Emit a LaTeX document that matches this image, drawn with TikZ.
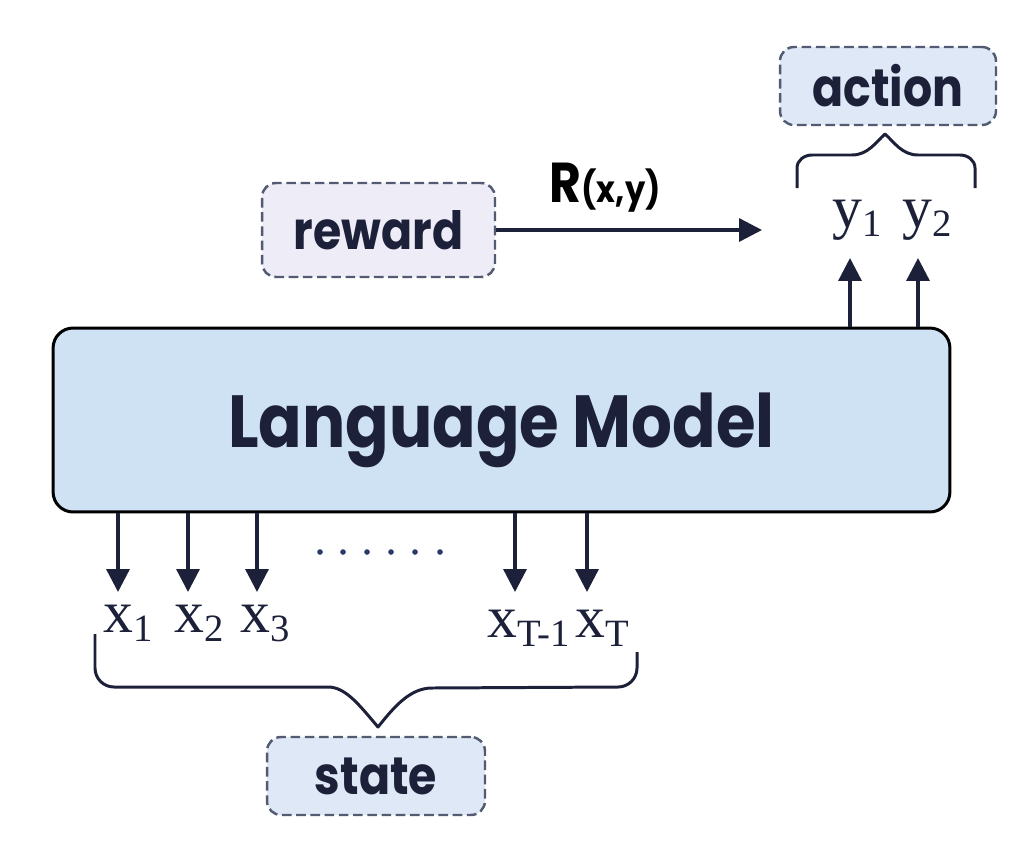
\documentclass[tikz,border=0pt]{standalone}
\usepackage{fontspec}
\usetikzlibrary{arrows.meta,positioning}
\newfontfamily\geofont[FakeStretch=0.87]{Poppins}
\newfontfamily\timesfont{Liberation Serif}
\definecolor{ink}{HTML}{1C2038}
\definecolor{edge}{HTML}{525B72}
\definecolor{lmblue}{HTML}{CFE2F3}
\definecolor{tagblue}{HTML}{DEE8F6}
\definecolor{taglilac}{HTML}{EEECF7}
\definecolor{dotblue}{HTML}{2B3A6B}
\newcommand{\tok}[2]{{\timesfont\fontsize{34}{34}\selectfont #1\raisebox{-0.14em}{\fontsize{22}{22}\selectfont #2}}}

\begin{document}
\begin{tikzpicture}[x=0.02cm, y=-0.02cm,
  lmbox/.style={draw=black, line width=1.7pt, fill=lmblue, rounded corners=0.4cm,
    minimum width=17.94cm, minimum height=3.68cm, text=ink, text depth=0pt,
    font=\geofont\bfseries\fontsize{42}{42}\selectfont},
  tagbox/.style={draw=edge, line width=1.4pt, dash pattern=on 5.5pt off 2.6pt,
    rounded corners=0.28cm, text=ink, inner sep=0pt,
    font=\geofont\bfseries\fontsize{30}{30}\selectfont},
  arr/.style={draw=ink, line width=1.9pt, -{Triangle[width=13pt,length=13pt]}},
  brace/.style={draw=ink, line width=1.7pt, line join=round},
  tok/.style={inner sep=0pt, text=ink, anchor=north west}]
\useasboundingbox (0,0) rectangle (1024,842);

\node[lmbox] (lm) at (501.5,420) {Language Model};
\node[tagbox, fill=taglilac, minimum width=4.66cm, minimum height=1.88cm] (reward) at (378.5,230) {reward};
\node[tagbox, fill=tagblue, minimum width=4.32cm, minimum height=1.56cm] (action) at (888,86) {action};
\node[tagbox, fill=tagblue, minimum width=4.36cm, minimum height=1.56cm] (state) at (376,776) {state};

\coordinate (rtip) at (762,230);
\draw[arr] (reward.east) -- node[pos=0.41, above=9pt, inner sep=0pt, text=black,
  font=\geofont\bfseries] {\fontsize{32}{32}\selectfont R\fontsize{21}{21}\selectfont(x,y)} (rtip);

\foreach \n/\xx/\lx/\ly/\sb in {1/118/103/605/1, 2/188/174/605/2, 3/257/240/605/3, 4/515/487/610/T-1, 5/587/575/610/T} {
  \coordinate (d\n) at (\xx,592);
  \draw[arr] (d\n |- lm.south) -- (d\n);
  \node[tok] (x\n) at (\lx,\ly) {\tok{x}{\sb}};
}
\foreach \dx in {320,343,367,391,415,440}
  \fill[dotblue] (\dx,552) circle (1.6pt);

\foreach \n/\xx/\lx in {1/850/832, 2/918/902} {
  \coordinate (u\n) at (\xx,258);
  \draw[arr] (u\n |- lm.north) -- (u\n);
  \node[tok] (y\n) at (\lx,200) {\tok{y}{\n}};
}

\draw[brace] (797,188) -- (797,168) to[out=90,in=180] (812,155) -- (852,155)
  .. controls (868,155) and (876,142) .. (885,134)
  .. controls (894,142) and (902,155) .. (918,155) -- (960,155)
  to[out=0,in=90] (975,168) -- (975,188);
\draw[brace] (95,634) -- (95,668) to[out=-90,in=180] (114,687) -- (328,687)
  .. controls (346,687) and (360,706) .. (378,727)
  .. controls (394,707) and (410,688) .. (432,688) -- (618,687)
  to[out=0,in=-90] (637,668) -- (637,652);
\end{tikzpicture}
\end{document}
